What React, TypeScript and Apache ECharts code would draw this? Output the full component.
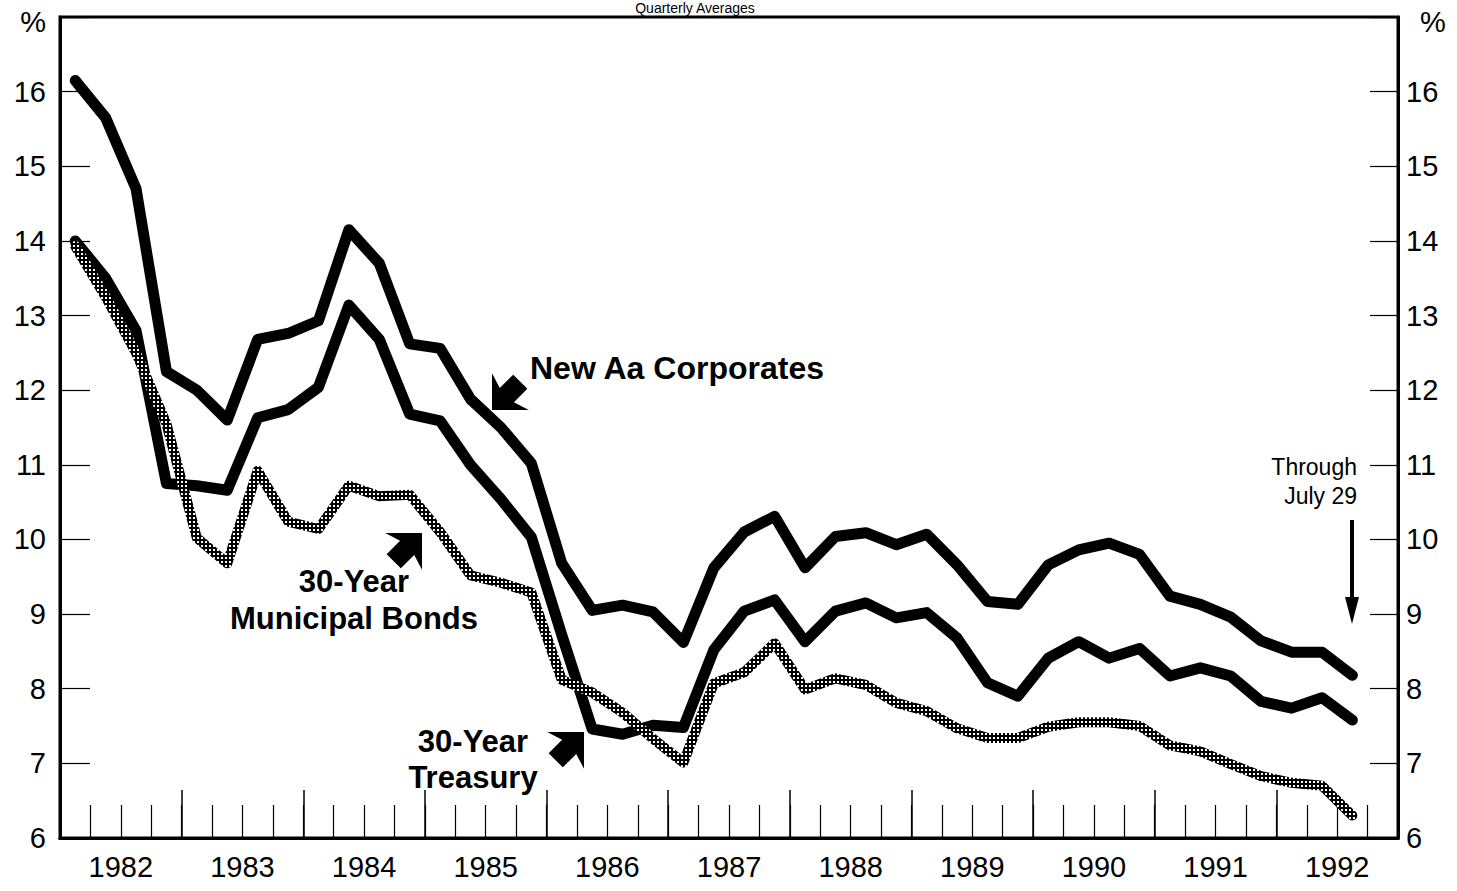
import React, { useEffect, useRef } from 'react';
import * as echarts from 'echarts';

const years = ['1982', '1983', '1984', '1985', '1986', '1987', '1988', '1989', '1990', '1991', '1992'];
const quarterNames = ['Q1', 'Q2', 'Q3', 'Q4'];
const quarters = years.flatMap((y) => quarterNames.map((q) => `${y} ${q}`));

// Quarterly averages, 1982 Q1 – 1992 Q3 (through July 29), percent
const newAaCorporates = [
  16.15, 15.65, 14.7, 12.25, 12.0, 11.6, 12.68, 12.76, 12.93, 14.15, 13.7,
  12.62, 12.56, 11.88, 11.5, 11.02, 9.68, 9.05, 9.12, 9.03, 8.62,
  9.62, 10.1, 10.31, 9.62, 10.04, 10.09, 9.93, 10.07, 9.66, 9.17, 9.13,
  9.66, 9.86, 9.95, 9.8, 9.24, 9.13, 8.96, 8.64, 8.49, 8.49, 8.18,
];
const treasury30Y = [
  14.0, 13.5, 12.8, 10.75, 10.72, 10.66, 11.63, 11.74, 12.04, 13.14, 12.68,
  11.68, 11.59, 11.0, 10.54, 10.03, 8.72, 7.46, 7.39, 7.51, 7.48,
  8.52, 9.04, 9.19, 8.63, 9.04, 9.15, 8.95, 9.02, 8.68, 8.08, 7.9,
  8.41, 8.63, 8.41, 8.54, 8.17, 8.28, 8.17, 7.83, 7.74, 7.88, 7.58,
];
const municipal30Y = [
  13.93, 13.25, 12.5, 11.55, 10.02, 9.68, 10.92, 10.24, 10.14, 10.72, 10.58,
  10.6, 10.1, 9.52, 9.42, 9.29, 8.12, 7.95, 7.68, 7.33, 7.01,
  8.07, 8.22, 8.61, 7.99, 8.14, 8.05, 7.81, 7.7, 7.47, 7.34, 7.34,
  7.49, 7.55, 7.55, 7.5, 7.24, 7.16, 6.99, 6.83, 6.74, 6.7, 6.3,
];

const FONT = '"Liberation Sans", Arial, Helvetica, sans-serif';

function blockArrow(tx: number, ty: number, dx: number, dy: number) {
  const len = Math.hypot(dx, dy);
  const ux = dx / len;
  const uy = dy / len;
  const px = -uy;
  const py = ux;
  const h = 26;
  const w = 26;
  const s = 10;
  const L = 40;
  const pt = (a: number, b: number) => [tx - a * ux + b * px, ty - a * uy + b * py];
  return [pt(0, 0), pt(h, w), pt(h - 5, s), pt(L, s), pt(L, -s), pt(h - 5, -s), pt(h, -w)];
}

export default function App() {
  const ref = useRef<HTMLDivElement>(null);

  useEffect(() => {
    if (!ref.current) return;
    const chart = echarts.init(ref.current, undefined, { renderer: 'svg' });

    const tile = document.createElement('canvas');
    tile.width = 4;
    tile.height = 4;
    const ctx = tile.getContext('2d')!;
    ctx.fillStyle = '#000000';
    ctx.fillRect(0, 0, 4, 4);
    ctx.fillStyle = '#ffffff';
    ctx.fillRect(1, 1, 2, 2);

    const yLabel = (pad: number[]) => ({
      fontSize: 29,
      color: '#000',
      fontFamily: FONT,
      formatter: (v: number) => (v === 17 ? '{p|%}' : String(v)),
      rich: { p: { fontSize: 29, color: '#000', fontFamily: FONT, padding: pad } },
    });

    const axisLine = { show: true, lineStyle: { color: '#000', width: 3 } };

    const option: any = {
      animation: false,
      backgroundColor: '#fff',
      grid: [
        { left: 60, right: 59, top: 17, bottom: 53, show: true, borderColor: '#000', borderWidth: 3 },
        { left: 60, right: 59, top: 17, bottom: 53, show: false },
      ],
      xAxis: [
        {
          type: 'category',
          gridIndex: 0,
          data: quarters,
          boundaryGap: true,
          position: 'bottom',
          axisLine,
          axisTick: { show: true, inside: true, length: 33, interval: 0, lineStyle: { color: '#000', width: 1.2 } },
          axisLabel: { show: false },
          splitLine: { show: false },
        },
        {
          type: 'category',
          gridIndex: 1,
          data: years,
          boundaryGap: true,
          position: 'bottom',
          axisLine,
          axisTick: { show: true, inside: true, length: 48, interval: 0, lineStyle: { color: '#000', width: 1.5 } },
          axisLabel: { show: true, interval: 0, fontSize: 29, color: '#000', fontFamily: FONT, margin: 14 },
          splitLine: { show: false },
        },
      ],
      yAxis: [
        {
          type: 'value',
          gridIndex: 0,
          position: 'left',
          min: 6,
          max: 17,
          interval: 1,
          axisLine,
          axisTick: { show: true, inside: true, length: 30, lineStyle: { color: '#000', width: 1.2 } },
          axisLabel: { ...yLabel([10, 0, 0, 0]), margin: 14 },
          splitLine: { show: false },
        },
        {
          type: 'value',
          gridIndex: 0,
          position: 'right',
          min: 6,
          max: 17,
          interval: 1,
          axisLine,
          axisTick: { show: true, inside: true, length: 28, lineStyle: { color: '#000', width: 1.2 } },
          axisLabel: { ...yLabel([10, 0, 0, 14]), margin: 8 },
          splitLine: { show: false },
        },
        {
          type: 'value',
          gridIndex: 1,
          min: 6,
          max: 17,
          show: false,
        },
      ],
      series: [
        {
          name: 'New Aa Corporates',
          type: 'line',
          xAxisIndex: 0,
          yAxisIndex: 0,
          data: newAaCorporates,
          symbol: 'none',
          lineStyle: { color: '#000', width: 11, cap: 'round', join: 'round' },
          z: 3,
        },
        {
          name: '30-Year Treasury',
          type: 'line',
          xAxisIndex: 0,
          yAxisIndex: 0,
          data: treasury30Y,
          symbol: 'none',
          lineStyle: { color: '#000', width: 11, cap: 'round', join: 'round' },
          z: 3,
        },
        {
          name: '30-Year Municipal Bonds',
          type: 'line',
          xAxisIndex: 0,
          yAxisIndex: 0,
          data: municipal30Y,
          symbol: 'none',
          lineStyle: {
            color: { image: tile, repeat: 'repeat' },
            width: 10,
            cap: 'round',
            join: 'round',
          },
          z: 4,
        },
      ],
      graphic: [
        {
          type: 'text',
          x: 695,
          y: 1,
          style: { text: 'Quarterly Averages', font: `14px ${FONT}`, fill: '#000', align: 'center', verticalAlign: 'top' },
        },
        {
          type: 'text',
          x: 530,
          y: 368,
          style: { text: 'New Aa Corporates', font: `bold 32px ${FONT}`, fill: '#000', align: 'left', verticalAlign: 'middle' },
        },
        {
          type: 'text',
          x: 354,
          y: 581,
          style: { text: '30-Year', font: `bold 31px ${FONT}`, fill: '#000', align: 'center', verticalAlign: 'middle' },
        },
        {
          type: 'text',
          x: 354,
          y: 618,
          style: { text: 'Municipal Bonds', font: `bold 31px ${FONT}`, fill: '#000', align: 'center', verticalAlign: 'middle' },
        },
        {
          type: 'text',
          x: 473,
          y: 741,
          style: { text: '30-Year', font: `bold 31px ${FONT}`, fill: '#000', align: 'center', verticalAlign: 'middle' },
        },
        {
          type: 'text',
          x: 473,
          y: 777,
          style: { text: 'Treasury', font: `bold 31px ${FONT}`, fill: '#000', align: 'center', verticalAlign: 'middle' },
        },
        {
          type: 'text',
          x: 1357,
          y: 467,
          style: { text: 'Through', font: `23px ${FONT}`, fill: '#000', align: 'right', verticalAlign: 'middle' },
        },
        {
          type: 'text',
          x: 1357,
          y: 496,
          style: { text: 'July 29', font: `23px ${FONT}`, fill: '#000', align: 'right', verticalAlign: 'middle' },
        },
        {
          type: 'polygon',
          shape: { points: blockArrow(492, 410, -1, 1) },
          style: { fill: '#000' },
        },
        {
          type: 'polygon',
          shape: { points: blockArrow(422, 533, 1, -1) },
          style: { fill: '#000' },
        },
        {
          type: 'polygon',
          shape: { points: blockArrow(584, 732, 1, -1) },
          style: { fill: '#000' },
        },
        {
          type: 'line',
          shape: { x1: 1352, y1: 520, x2: 1352, y2: 602 },
          style: { stroke: '#000', lineWidth: 4 },
        },
        {
          type: 'polygon',
          shape: { points: [[1352, 624], [1345, 597], [1359, 597]] },
          style: { fill: '#000' },
        },
      ],
    };

    chart.setOption(option);
    return () => chart.dispose();
  }, []);

  return (
    <div
      ref={ref}
      style={{ position: 'fixed', left: 0, top: 0, width: 1457, height: 891, background: '#fff' }}
    />
  );
}
